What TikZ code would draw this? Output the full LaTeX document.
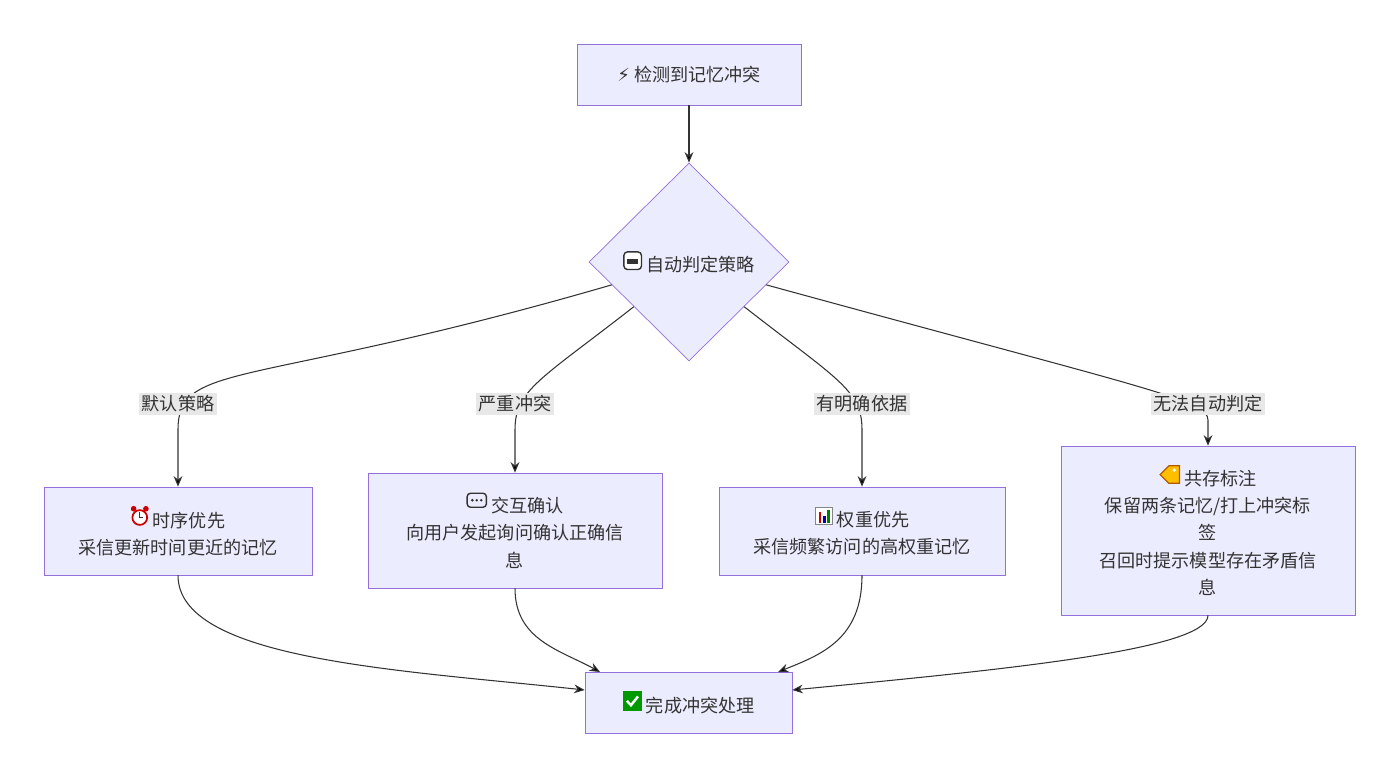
\documentclass[tikz,border=0pt]{standalone}
\usepackage{fontspec}
\setmainfont{Noto Sans CJK SC}
\newfontfamily\emo{DejaVu Sans}
\usetikzlibrary{shapes.geometric,calc,arrows.meta}
\definecolor{boxfill}{HTML}{ECECFF}
\definecolor{boxline}{HTML}{9370DB}
\definecolor{ink}{HTML}{333333}
\definecolor{lblfill}{HTML}{E8E8E8}
% small stand-ins for emoji that no font here has
\newcommand{\icbot}{\tikz[x=1pt,y=1pt,baseline=-1pt]{\draw[ink,fill=white,rounded corners=2pt,line width=0.8pt] (0,0) rectangle (10,10);\fill[ink] (2,3) rectangle (8,6);}}
\newcommand{\icclock}{\tikz[x=1pt,y=1pt,baseline=-1pt]{\draw[red!80!black,fill=white,line width=1pt] (5,4.5) circle (4.2);\draw[ink,line width=0.6pt] (5,4.5) -- (5,7.5) (5,4.5) -- (7,4.5);\fill[red!80!black] (1.5,9.5) circle (1.6) (8.5,9.5) circle (1.6);}}
\newcommand{\icchat}{\tikz[x=1pt,y=1pt,baseline=-1pt]{\draw[ink,line width=0.8pt,rounded corners=2pt] (0,2) rectangle (11,10);\fill[ink] (3,6) circle (0.8) (5.5,6) circle (0.8) (8,6) circle (0.8);}}
\newcommand{\icchart}{\tikz[x=1pt,y=1pt,baseline=-1pt]{\draw[ink!60,fill=white] (0,0) rectangle (10,10);\fill[red!80!black] (2,1) rectangle (3.5,7);\fill[blue!70!black] (4.5,1) rectangle (6,5);\fill[green!50!black] (7,1) rectangle (8.5,8.5);}}
\newcommand{\ictag}{\tikz[x=1pt,y=1pt,baseline=-1pt]{\draw[orange!70!black,fill=orange!50!yellow,line width=0.7pt] (0,5) -- (5,10) -- (11,10) -- (11,0) -- (5,0) -- cycle;\fill[white] (8,7.5) circle (1);}}
\newcommand{\iccheck}{\tikz[x=1pt,y=1pt,baseline=-1pt]{\fill[green!60!black] (0,0) rectangle (11,11);\draw[white,line width=1.4pt] (2.5,5.5) -- (4.8,3) -- (8.8,8);}}
\begin{document}
\begin{tikzpicture}[x=0.02cm,y=-0.02cm,font=\fontsize{10.3pt}{15.6pt}\selectfont,text=ink,
		box_style/.style={rectangle,draw=boxline,fill=boxfill,align=center,inner sep=0pt},
		edge_style/.style={draw=ink,line width=0.6pt,-{Stealth[length=6pt,width=5pt]}},
		label_style/.style={fill=lblfill,inner sep=1.5pt}]
		\useasboundingbox (0,0) rectangle (1400,778);
		
		\node[box_style,minimum width=4.48cm,minimum height=1.22cm] (start) at (689,74.5) {{\emo ⚡} 检测到记忆冲突};
		\node[diamond,draw=boxline,fill=boxfill,minimum width=4cm,minimum height=3.96cm,inner sep=0pt] (dec) at (689,262) {\icbot\ 自动判定策略};
		\node[box_style,minimum width=5.36cm,minimum height=1.76cm] (tim) at (178,531) {\icclock\ 时序优先\\采信更新时间更近的记忆};
		\node[box_style,minimum width=5.88cm,minimum height=2.3cm] (ask) at (515,530.5) {\icchat\ 交互确认\\向用户发起询问确认正确信\\息};
		\node[box_style,minimum width=5.72cm,minimum height=1.76cm] (wgt) at (862,531) {\icchart\ 权重优先\\采信频繁访问的高权重记忆};
		\node[box_style,minimum width=5.88cm,minimum height=3.38cm] (tag) at (1208,530.5) {\ictag\ 共存标注\\保留两条记忆/打上冲突标\\签\\召回时提示模型存在矛盾信\\息};
		\node[box_style,minimum width=4.14cm,minimum height=1.22cm] (done) at (688.5,702.5) {\iccheck\ 完成冲突处理};
		
		\draw[edge_style] (start) -- (dec.north);
		\draw[edge_style] ($(dec.west)!0.23!(dec.south)$) .. controls (250,390) and (178,360) .. (178,430) -- (tim.north);
		\draw[edge_style] ($(dec.west)!0.45!(dec.south)$) .. controls (540,380) and (515,390) .. (515,430) -- (ask.north);
		\draw[edge_style] ($(dec.east)!0.45!(dec.south)$) .. controls (838,380) and (862,390) .. (862,430) -- (wgt.north);
		\draw[edge_style] ($(dec.east)!0.23!(dec.south)$) .. controls (1150,390) and (1208,400) .. (1208,420) -- (tag.north);
		\node[label_style] (l1) at (178,404) {默认策略};
		\node[label_style] (l2) at (515,404) {严重冲突};
		\node[label_style] (l3) at (862,404) {有明确依据};
		\node[label_style] (l4) at (1208,404) {无法自动判定};
		
		\draw[edge_style] (tim.south) .. controls (178,660) and (400,670) .. (done.west|-0,690);
		\draw[edge_style] (ask.south) .. controls (515,640) and (560,650) .. (600,672);
		\draw[edge_style] (wgt.south) .. controls (862,640) and (820,655) .. (778,672);
		\draw[edge_style] (tag.south) .. controls (1208,650) and (1000,670) .. (done.east|-0,690);
\end{tikzpicture}
\end{document}
